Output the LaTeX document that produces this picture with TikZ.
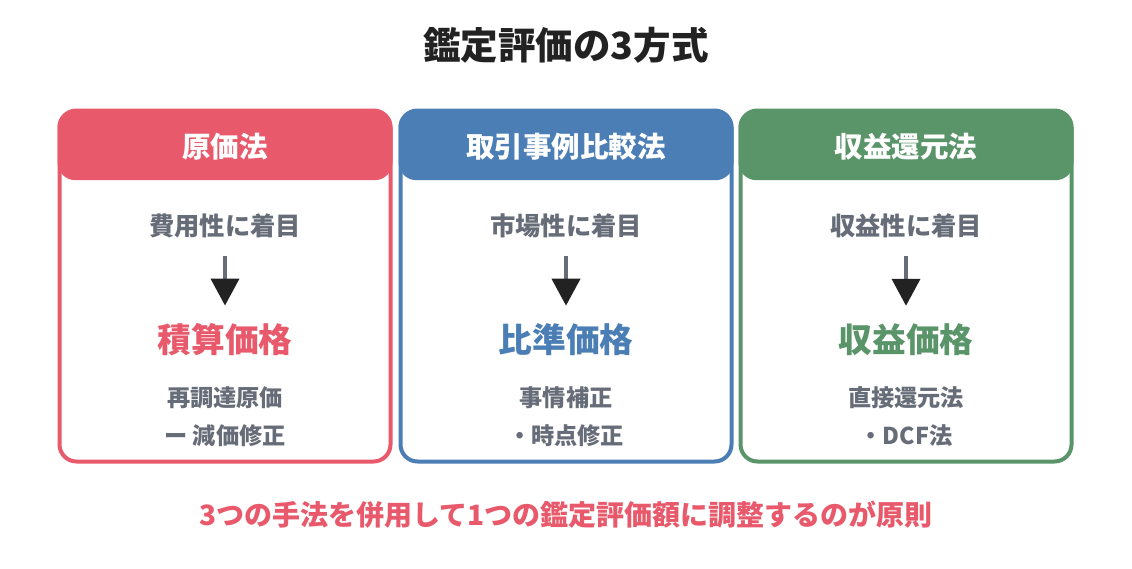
\documentclass[tikz,border=0pt]{standalone}
\usepackage{fontspec}
\setmainfont{Noto Sans CJK JP}
\usepackage{tikz}
\usetikzlibrary{arrows.meta, positioning}

\definecolor{costred}{HTML}{E85A6B}
\definecolor{marketblue}{HTML}{4A7EB5}
\definecolor{incomegreen}{HTML}{5A9469}
\definecolor{textgray}{HTML}{676D78}
\definecolor{titledark}{HTML}{222222}

\begin{document}
\begin{tikzpicture}[
    x=1pt, y=-1pt,
    panel/.style={rectangle, draw, line width=4pt, rounded corners=17pt, minimum width=331pt, minimum height=351pt, inner sep=0pt},
    head/.style={rectangle, rounded corners=18pt, minimum width=335pt, minimum height=71pt, inner sep=0pt, anchor=north},
    headtext/.style={text=white, font=\bfseries\fontsize{28.5}{30}\selectfont, inner sep=0pt},
    focus/.style={text=textgray, font=\bfseries\fontsize{25.3}{28}\selectfont, inner sep=0pt},
    price/.style={font=\bfseries\fontsize{33.7}{36}\selectfont, inner sep=0pt},
    detail/.style={text=textgray, font=\bfseries\fontsize{23.2}{38}\selectfont, align=center, inner sep=0pt},
    arrow/.style={line width=4pt, draw=textgray, -{Triangle[width=28pt, length=27pt, fill=titledark, color=titledark]}, shorten <=18pt, shorten >=18pt}
]
\useasboundingbox[fill=white] (0,0) rectangle (1132,568);

\node[text=titledark, font=\bfseries\fontsize{37.5}{40}\selectfont] (title) at (566,45) {鑑定評価の3方式};

% 原価法
\node[head, fill=costred] (costhead) at (225,109) {};
\node[panel, draw=costred] (costbox) at (225,286) {};
\node[headtext] (costname) at (225,147) {原価法};
\node[focus] (costfocus) at (225,226) {費用性に着目};
\node[price, text=costred] (costprice) at (225,340) {積算価格};
\node[detail] (costcalc) at (225,417) {再調達原価\\ー 減価修正};
\draw[arrow] (costfocus) -- (costprice);

% 取引事例比較法
\node[head, fill=marketblue] (markethead) at (566,109) {};
\node[panel, draw=marketblue] (marketbox) at (566,286) {};
\node[headtext] (marketname) at (566,147) {取引事例比較法};
\node[focus] (marketfocus) at (566,226) {市場性に着目};
\node[price, text=marketblue] (marketprice) at (566,340) {比準価格};
\node[detail] (marketcalc) at (566,417) {事情補正\\・時点修正};
\draw[arrow] (marketfocus) -- (marketprice);

% 収益還元法
\node[head, fill=incomegreen] (incomehead) at (906,109) {};
\node[panel, draw=incomegreen] (incomebox) at (906,286) {};
\node[headtext] (incomename) at (906,147) {収益還元法};
\node[focus] (incomefocus) at (906,226) {収益性に着目};
\node[price, text=incomegreen] (incomeprice) at (906,340) {収益価格};
\node[detail] (incomecalc) at (906,417) {直接還元法\\・DCF法};
\draw[arrow] (incomefocus) -- (incomeprice);

\node[text=costred, font=\bfseries\fontsize{28}{30}\selectfont] (rule) at (566,515) {3つの手法を併用して1つの鑑定評価額に調整するのが原則};
\end{tikzpicture}
\end{document}
